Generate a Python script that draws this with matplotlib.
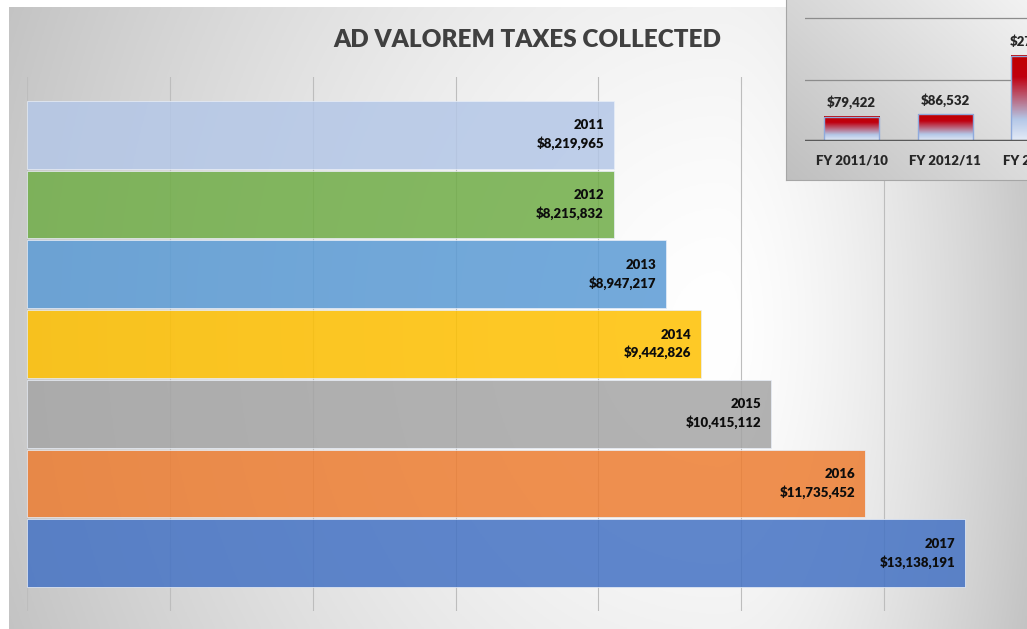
import numpy as np
import matplotlib.pyplot as plt
from matplotlib.colors import LinearSegmentedColormap
from matplotlib.patches import Rectangle

# main chart data
years = ['2011', '2012', '2013', '2014', '2015', '2016', '2017']
collected = [8219965, 8215832, 8947217, 9442826, 10415112, 11735452, 13138191]
bar_colors = ['#b4c7e7', '#70ad47', '#5b9bd5', '#ffc000', '#a5a5a5', '#ed7d31', '#4472c4']

# inset chart data (cut off at the right edge in the original)
fy_labels = ['FY 2011/10', 'FY 2012/11', 'FY 2013/12']
fy_values = [79422, 86532, 278000]

W, H = 1027, 629
plt.rcParams['font.family'] = ['Lato', 'DejaVu Sans']

fig = plt.figure(figsize=(W / 100, H / 100), dpi=100)
fig.patch.set_facecolor('white')

# background frame with a radial-ish gray gradient
bg = fig.add_axes([9 / W, 0, (W - 9) / W, (H - 7) / H])
xs = np.linspace(9, W, 400)
ys = np.linspace(7, H, 250)
X, Y = np.meshgrid(xs, ys)
cx, cy = 720, 330
u = np.where(X < cx, (X - cx) / (cx - 9), (X - cx) / (W - cx))
v = np.where(Y < cy, (Y - cy) / (cy - 7), (Y - cy) / (H - cy))
r = np.sqrt(u ** 2 + 0.15 * v ** 2)
val = np.clip(1 - 0.21 * r ** 1.5, 0, 1)
bg.imshow(np.dstack([val, val, val]), extent=[0, 1, 0, 1], aspect='auto', origin='upper')
bg.set_axis_off()

# main bar chart
ax = fig.add_axes([27 / W, (H - 611) / H, 1000 / W, 534 / H])
ax.set_facecolor('none')
ypos = np.arange(len(years))
ax.barh(ypos, collected, height=0.97, color=bar_colors, alpha=0.85,
        edgecolor='#e8eef8', linewidth=0.6, zorder=2)
for i, (yr, val_) in enumerate(zip(years, collected)):
    ax.text(val_ - 0.14e6, i, f'{yr}\n${val_:,}', ha='right', va='center',
            fontsize=9.5, fontweight='heavy', color='#0d0d0d', linespacing=1.45, zorder=3)
ax.set_xlim(0, 14e6)
ax.set_ylim(6.83, -0.83)
ax.set_xticks(np.arange(0, 13e6, 2e6))
ax.set_yticks([])
ax.grid(axis='x', color='#bdbdbd', linewidth=0.8)
ax.set_axisbelow(True)
ax.tick_params(length=0, labelbottom=False)
for s in ax.spines.values():
    s.set_visible(False)

fig.text(527 / W, 1 - 40 / H, 'AD VALOREM TAXES COLLECTED', ha='center', va='center',
         fontsize=17.5, fontweight='heavy', color='#404040')

# inset box
ib = fig.add_axes([786 / W, (H - 180) / H, 300 / W, 200 / H], zorder=5)
gx = np.linspace(0, 300 / 241, 200)
gy = np.linspace(1, 0, 120)
GX, GY = np.meshgrid(gx, gy)
ival = np.clip(0.75 + 0.11 * GX + 0.10 * GY, 0, 1)
ib.imshow(np.dstack([ival, ival, ival]), extent=[0, 1, 0, 1], aspect='auto', origin='upper')
ib.set_xticks([])
ib.set_yticks([])
for s in ib.spines.values():
    s.set_color('#a6a6a6')
    s.set_linewidth(0.8)

ia = fig.add_axes([805 / W, (H - 141) / H, 467 / W, 141 / H], zorder=6)
ia.set_facecolor('none')
for g in [200000, 400000]:
    ia.axhline(g, color='#8c8c8c', linewidth=0.9, zorder=1)
grad = LinearSegmentedColormap.from_list('redblue', [(0, '#e4ebf7'), (0.25, '#b4c7e7'),
                                                     (0.75, '#c00010'), (1, '#c00000')])
strip = np.linspace(0, 1, 100).reshape(-1, 1)
for i, fv in enumerate(fy_values):
    ia.imshow(strip, cmap=grad, extent=[i - 0.295, i + 0.295, 0, fv], aspect='auto',
              origin='lower', zorder=2)
    ia.add_patch(Rectangle((i - 0.295, 0), 0.59, fv, fill=False, edgecolor='#8faadc',
                           linewidth=1, zorder=3))
    ia.text(i, fv + 25000, f'${fv:,}', ha='center', va='bottom', fontsize=9.5,
            fontweight='heavy', color='#262626', zorder=4)
    ia.text(i, -65000, fy_labels[i], ha='center', va='center', fontsize=9.5,
            fontweight='heavy', color='#262626', clip_on=False, zorder=4)
ia.axhline(0, color='#595959', linewidth=2.5, zorder=4)
ia.set_xlim(-0.5, 4.5)
ia.set_ylim(0, 460000)
ia.set_axis_off()

fig.savefig('out.png', dpi=100)
